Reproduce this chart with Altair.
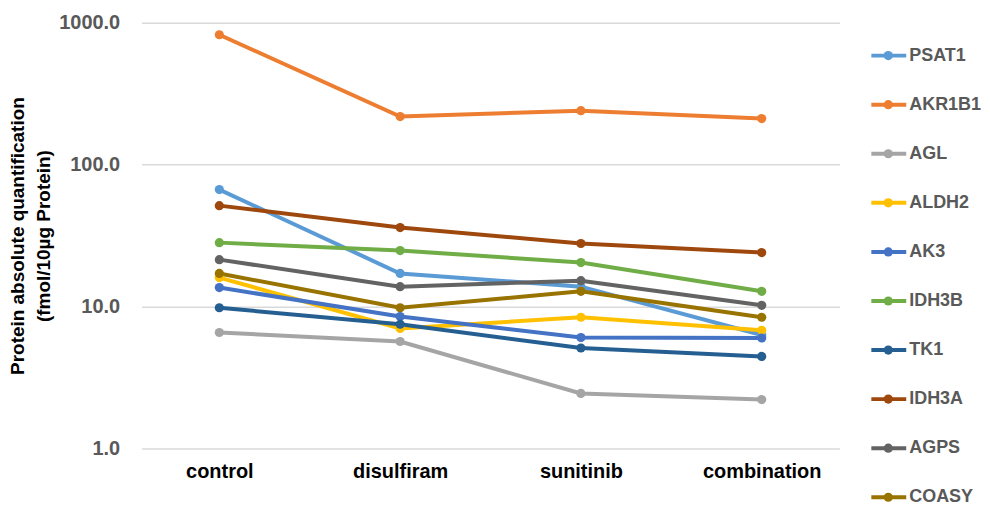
import altair as alt
import pandas as pd

treatments = ["control", "disulfiram", "sunitinib", "combination"]
proteins = ["PSAT1", "AKR1B1", "AGL", "ALDH2", "AK3", "IDH3B", "TK1", "IDH3A", "AGPS", "COASY"]
colors = ["#5B9BD5", "#ED7D31", "#A5A5A5", "#FFC000", "#4472C4", "#70AD47", "#255E91", "#9E480E", "#636363", "#997300"]

PSAT1 = [66.7, 17.1, 13.8, 6.3]
AKR1B1 = [823, 218, 240, 211]
AGL = [6.56, 5.67, 2.44, 2.21]
ALDH2 = [16.0, 7.0, 8.4, 6.8]
AK3 = [13.6, 8.5, 6.05, 6.0]
IDH3B = [28.2, 24.8, 20.4, 12.8]
TK1 = [9.8, 7.5, 5.1, 4.45]
IDH3A = [51.4, 36.0, 27.8, 24.0]
AGPS = [21.4, 13.8, 15.2, 10.2]
COASY = [17.1, 9.8, 12.8, 8.4]

series = [PSAT1, AKR1B1, AGL, ALDH2, AK3, IDH3B, TK1, IDH3A, AGPS, COASY]

rows = []
for name, vals in zip(proteins, series):
    for t, v in zip(treatments, vals):
        rows.append({"protein": name, "treatment": t, "value": v})
df = pd.DataFrame(rows)
leg = pd.DataFrame({"protein": proteins})

FONT = "Liberation Sans"
color_scale = alt.Scale(domain=proteins, range=colors)

x = alt.X("treatment:N", sort=treatments,
          scale=alt.Scale(type="point", padding=0.43),
          axis=alt.Axis(title=None, labelAngle=0, domain=False, ticks=False, grid=False,
                        labelFont=FONT, labelFontSize=20, labelFontWeight="bold",
                        labelColor="#000000", labelPadding=13))
y = alt.Y("value:Q",
          scale=alt.Scale(type="log", domain=[1, 1000]),
          axis=alt.Axis(title=["Protein absolute quantification", "(fmol/10µg Protein)"],
                        values=[1, 10, 100, 1000], format=".1f",
                        domain=False, ticks=False, gridColor="#d9d9d9", gridWidth=1.5,
                        labelFont=FONT, labelFontSize=20, labelFontWeight="bold",
                        labelColor="#595959", labelPadding=22,
                        titleFont=FONT, titleFontSize=19, titleFontWeight="bold",
                        titleColor="#000000", titleLineHeight=26, titlePadding=5))
col = alt.Color("protein:N", scale=color_scale, legend=None)

base = alt.Chart(df)
lines = base.mark_line(strokeWidth=4).encode(x=x, y=y, color=col, detail="protein:N")
pts = base.mark_circle(size=85, opacity=1).encode(x=x, y=y, color=col)
main = alt.layer(lines, pts).properties(width=700, height=427)

ly = alt.Y("protein:N", sort=proteins,
           scale=alt.Scale(type="point", range=[33, 476], padding=0), axis=None)
lbase = alt.Chart(leg)
lrule = lbase.mark_rule(strokeWidth=4).encode(
    x=alt.value(0), x2=alt.value(35), y=ly,
    color=alt.Color("protein:N", scale=color_scale, legend=None))
lpt = lbase.mark_circle(size=85, opacity=1).encode(
    x=alt.value(17), y=ly,
    color=alt.Color("protein:N", scale=color_scale, legend=None))
ltxt = lbase.mark_text(align="left", baseline="middle", font=FONT, fontSize=18,
                       fontWeight="bold", color="#595959").encode(
    x=alt.value(38), y=ly, text="protein:N")
legend = alt.layer(lrule, lpt, ltxt).properties(width=110, height=427)

chart = alt.hconcat(main, legend, spacing=30).configure_view(stroke=None).properties(
    padding={"left": 0, "top": 4, "right": 0, "bottom": 0})

chart.save("out.html", embed_options={"renderer": "svg", "actions": False})
